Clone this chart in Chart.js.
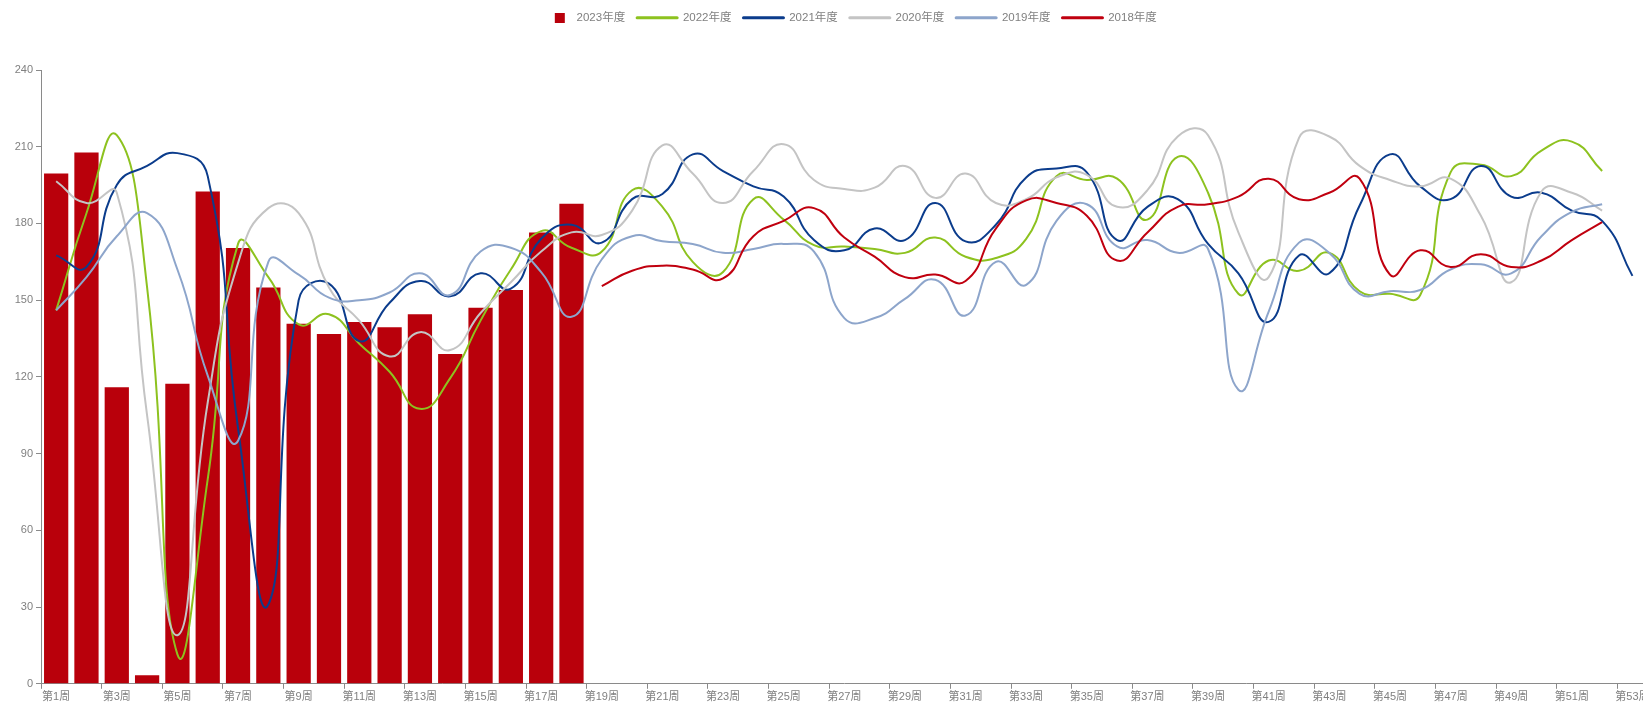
<!DOCTYPE html>
<html>
<head>
    <meta charset="utf-8">
    <script src="https://cdn.jsdelivr.net/npm/chart.js@4.4.1/dist/chart.umd.min.js"></script>
    <style>
        html, body { margin: 0; padding: 0; overflow: hidden; background: #fff; }
        #wrap { width: 1752px; height: 704px; }
    </style>
</head>
<body>

    <div id="wrap">
        <canvas id="myChart"></canvas>
    </div>

    <script type="text/javascript">
        // week labels on the x axis
        const weeks = ['第1周','第2周','第3周','第4周','第5周','第6周','第7周','第8周','第9周','第10周',
            '第11周','第12周','第13周','第14周','第15周','第16周','第17周','第18周','第19周','第20周',
            '第21周','第22周','第23周','第24周','第25周','第26周','第27周','第28周','第29周','第30周',
            '第31周','第32周','第33周','第34周','第35周','第36周','第37周','第38周','第39周','第40周',
            '第41周','第42周','第43周','第44周','第45周','第46周','第47周','第48周','第49周','第50周',
            '第51周','第52周','第53周'];

        const yTicks = [0, 30, 60, 90, 120, 150, 180, 210, 240];

        // 2023 bars (weeks 1-18 so far)
        const y2023 = [199.5, 207.7, 116, 3.3, 117.3, 192.5, 170.4, 155, 140.8, 136.8,
            141.5, 139.4, 144.5, 129, 147, 154, 176.5, 187.7];

        const y2022 = [146, 184, 214.5, 155, 11.5, 80, 172, 159, 140.5, 144.5,
            133, 122, 107.5, 119.5, 142, 162, 177, 170.5, 169, 193,
            186.5, 165, 161, 189.5, 181.5, 171.5, 171, 170, 168.5, 174.5,
            167, 166.5, 174, 198.5, 197, 197.5, 181.5, 206, 192, 152.5,
            165.5, 161.5, 168.5, 153.5, 152.5, 152, 200, 203, 198.5, 208.5,
            212, 200.5, null];

        const y2021 = [167.5, 163, 195, 202.5, 207.5, 198.5, 100, 31, 150, 156.5,
            134, 149, 157.5, 151.5, 160.5, 154.5, 174, 179.5, 172.5, 189.5,
            191.5, 207, 200.5, 194.5, 190.5, 173.5, 169.5, 178, 173.5, 188,
            173, 179.5, 198, 201.5, 200, 173.5, 186.5, 189.5, 172, 160.5,
            141.5, 167.5, 160.5, 187, 207, 194.5, 189.5, 202.5, 190.5, 192,
            185, 181, 159.5];

        const y2020 = [196.5, 188, 192, 105, 19, 110, 164.5, 186, 184, 155,
            142, 128, 137.5, 130.5, 145, 157, 169, 176.5, 175.5, 185,
            210.5, 199.5, 188, 200.5, 211, 197, 193.5, 194, 202.5, 190,
            199.5, 188, 189.5, 198, 199, 186.5, 193, 214, 214.5, 176.5,
            159, 213.5, 214, 202.5, 197, 194.5, 197.5, 183, 157, 192.5,
            192, 185, null];

        const y2019 = [146, 159, 175, 184, 162, 120.5, 95, 165, 160, 151,
            150, 153, 160.5, 152, 169, 170.5, 161, 143.5, 166, 175,
            173, 172, 168.5, 170, 172, 169, 143, 143, 150.5, 158,
            144, 165, 156, 181, 187.5, 171, 173.5, 168.5, 170, 115,
            145.5, 172.5, 168.5, 152.5, 153.5, 154, 162, 164, 160.5, 175,
            184.5, 187.5, null];

        // 2018 starts at week 19
        const y2018 = [null, null, null, null, null, null, null, null, null, null,
            null, null, null, null, null, null, null, null, 155.5, 161.5,
            163.5, 162, 158.5, 175, 181, 186, 174.5, 167, 159, 160,
            157.5, 178, 189, 188, 183, 165.5, 176.5, 186.5, 187.5, 190.5,
            197.5, 189.5, 192, 197.5, 160, 169.5, 163, 168, 163, 165.5,
            173.5, 180.5, null];

        const axisGray = '#8a8a8a';
        const textGray = '#808080';
        const fontFamily = "'Liberation Sans', 'Noto Sans CJK SC', sans-serif";

        // little red square for the bar legend entry
        const barSwatch = document.createElement('canvas');
        barSwatch.width = 40;
        barSwatch.height = 10;
        const sctx = barSwatch.getContext('2d');
        sctx.fillStyle = '#b9000b';
        sctx.fillRect(24, 0, 10, 10);

        // nudge the legend row to the right after layout
        const legendShift = {
            id: 'legendShift',
            afterLayout: function (chart) {
                if (chart.legend) { chart.legend.left += 40; }
            }
        };

        function lineSet(label, values, color, order) {
            return {
                type: 'line',
                label: label,
                data: values,
                borderColor: color,
                backgroundColor: color,
                borderWidth: 2,
                pointRadius: 0,
                pointHoverRadius: 0,
                tension: 0.5,
                fill: false,
                order: order
            };
        }

        const data = {
            labels: weeks,
            datasets: [
                {
                    type: 'bar',
                    label: '2023年度',
                    data: y2023,
                    backgroundColor: '#b9000b',
                    barPercentage: 0.8,
                    categoryPercentage: 1.0,
                    order: 10
                },
                lineSet('2022年度', y2022, '#8dc21f', 5),
                lineSet('2021年度', y2021, '#0b3c8c', 4),
                lineSet('2020年度', y2020, '#c4c4c4', 3),
                lineSet('2019年度', y2019, '#8da5cb', 2),
                lineSet('2018年度', y2018, '#c0000f', 1)
            ]
        };

        const config = {
            type: 'bar',
            data: data,
            plugins: [legendShift],
            options: {
                responsive: true,
                maintainAspectRatio: false,
                animation: false,
                layout: {
                    padding: { left: 0, right: 104.4, top: 0, bottom: -2 }
                },
                plugins: {
                    tooltip: { enabled: false },
                    // blank title used as a spacer under the legend
                    title: {
                        display: true,
                        text: ' ',
                        weight: 500,
                        font: { size: 10, lineHeight: 1 },
                        padding: { top: 26.5, bottom: 0 }
                    },
                    legend: {
                        display: true,
                        position: 'top',
                        labels: {
                            usePointStyle: true,
                            pointStyleWidth: 40,
                            boxHeight: 11,
                            padding: 12,
                            color: textGray,
                            font: { family: fontFamily, size: 11.5 },
                            generateLabels: function (chart) {
                                return chart.data.datasets.map(function (ds, i) {
                                    return {
                                        text: ds.label,
                                        fillStyle: ds.backgroundColor,
                                        strokeStyle: ds.borderColor || ds.backgroundColor,
                                        lineWidth: 3,
                                        lineCap: 'round',
                                        fontColor: textGray,
                                        pointStyle: i === 0 ? barSwatch : 'line',
                                        hidden: false,
                                        datasetIndex: i
                                    };
                                });
                            }
                        }
                    }
                },
                scales: {
                    x: {
                        offset: true,
                        grid: {
                            offset: true,
                            drawOnChartArea: false,
                            drawTicks: true,
                            tickLength: 5,
                            color: function (c) { return c.index % 2 === 0 ? axisGray : 'rgba(0,0,0,0)'; }
                        },
                        border: { display: true, color: axisGray },
                        ticks: {
                            autoSkip: false,
                            maxRotation: 0,
                            minRotation: 0,
                            padding: 2,
                            color: textGray,
                            font: { family: fontFamily, size: 11 },
                            callback: function (v, i) { return i % 2 === 0 ? weeks[i] : ''; }
                        }
                    },
                    y: {
                        min: yTicks[0],
                        max: yTicks[yTicks.length - 1],
                        afterFit: function (scale) { scale.width = 41; },
                        afterBuildTicks: function (scale) {
                            scale.ticks = yTicks.map(function (v) { return { value: v }; });
                        },
                        grid: {
                            drawOnChartArea: false,
                            drawTicks: true,
                            tickLength: 5,
                            color: axisGray
                        },
                        border: { display: true, color: axisGray },
                        ticks: {
                            padding: 3,
                            color: textGray,
                            font: { family: fontFamily, size: 11 }
                        }
                    }
                }
            }
        };

        const chart = new Chart(
            document.getElementById('myChart'),
            config
        );
    </script>
</body>
</html>
